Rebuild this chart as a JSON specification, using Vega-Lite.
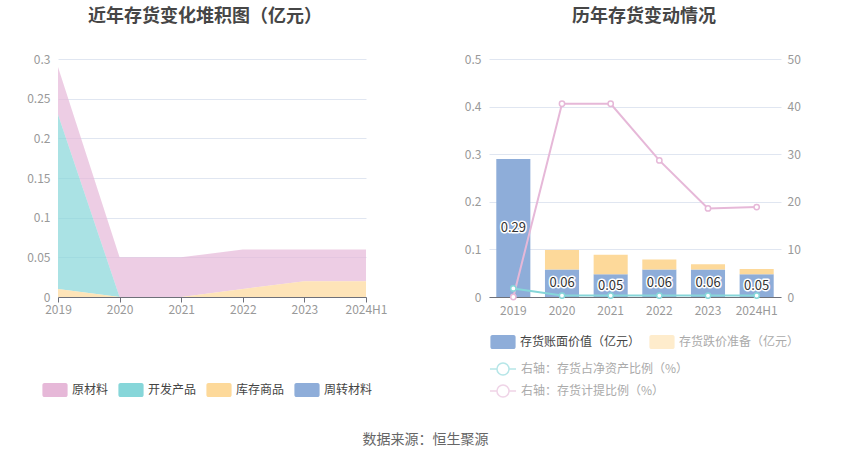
{
  "$schema": "https://vega.github.io/schema/vega-lite/v6.json",
  "background": "white",
  "padding": {"left": 26, "top": 8, "right": 5, "bottom": 5},
  "config": {
    "font": "Noto Sans CJK SC",
    "view": {"stroke": null},
    "axis": {"labelFont": "Noto Sans CJK SC", "labelFontSize": 12, "labelColor": "#999999", "gridColor": "#E0E6F1", "gridWidth": 1, "domainColor": "#6E7079", "tickColor": "#6E7079", "title": null},
    "legend": {"labelFont": "Noto Sans CJK SC", "labelFontSize": 12, "labelColor": "#444444", "padding": 0, "title": null, "labelLimit": 300}
  },
  "datasets": {
    "inv": [
      {"year": "2019", "type": "原材料", "value": 0.06},
      {"year": "2020", "type": "原材料", "value": 0.05},
      {"year": "2021", "type": "原材料", "value": 0.05},
      {"year": "2022", "type": "原材料", "value": 0.05},
      {"year": "2023", "type": "原材料", "value": 0.04},
      {"year": "2024H1", "type": "原材料", "value": 0.04},
      {"year": "2019", "type": "开发产品", "value": 0.22},
      {"year": "2020", "type": "开发产品", "value": 0},
      {"year": "2021", "type": "开发产品", "value": 0},
      {"year": "2022", "type": "开发产品", "value": 0},
      {"year": "2023", "type": "开发产品", "value": 0},
      {"year": "2024H1", "type": "开发产品", "value": 0},
      {"year": "2019", "type": "库存商品", "value": 0.01},
      {"year": "2020", "type": "库存商品", "value": 0},
      {"year": "2021", "type": "库存商品", "value": 0},
      {"year": "2022", "type": "库存商品", "value": 0.01},
      {"year": "2023", "type": "库存商品", "value": 0.02},
      {"year": "2024H1", "type": "库存商品", "value": 0.02},
      {"year": "2019", "type": "周转材料", "value": 0},
      {"year": "2020", "type": "周转材料", "value": 0},
      {"year": "2021", "type": "周转材料", "value": 0},
      {"year": "2022", "type": "周转材料", "value": 0},
      {"year": "2023", "type": "周转材料", "value": 0},
      {"year": "2024H1", "type": "周转材料", "value": 0}
    ],
    "bars": [
      {"year": "2019", "series": "存货账面价值（亿元）", "value": 0.29},
      {"year": "2020", "series": "存货账面价值（亿元）", "value": 0.058},
      {"year": "2021", "series": "存货账面价值（亿元）", "value": 0.048},
      {"year": "2022", "series": "存货账面价值（亿元）", "value": 0.058},
      {"year": "2023", "series": "存货账面价值（亿元）", "value": 0.058},
      {"year": "2024H1", "series": "存货账面价值（亿元）", "value": 0.048},
      {"year": "2019", "series": "存货跌价准备（亿元）", "value": 0},
      {"year": "2020", "series": "存货跌价准备（亿元）", "value": 0.041},
      {"year": "2021", "series": "存货跌价准备（亿元）", "value": 0.041},
      {"year": "2022", "series": "存货跌价准备（亿元）", "value": 0.021},
      {"year": "2023", "series": "存货跌价准备（亿元）", "value": 0.011},
      {"year": "2024H1", "series": "存货跌价准备（亿元）", "value": 0.011}
    ],
    "lines": [
      {"year": "2019", "series": "右轴：存货占净资产比例（%）", "value": 1.8},
      {"year": "2020", "series": "右轴：存货占净资产比例（%）", "value": 0.3},
      {"year": "2021", "series": "右轴：存货占净资产比例（%）", "value": 0.3},
      {"year": "2022", "series": "右轴：存货占净资产比例（%）", "value": 0.3},
      {"year": "2023", "series": "右轴：存货占净资产比例（%）", "value": 0.3},
      {"year": "2024H1", "series": "右轴：存货占净资产比例（%）", "value": 0.3},
      {"year": "2019", "series": "右轴：存货计提比例（%）", "value": 0},
      {"year": "2020", "series": "右轴：存货计提比例（%）", "value": 40.6},
      {"year": "2021", "series": "右轴：存货计提比例（%）", "value": 40.6},
      {"year": "2022", "series": "右轴：存货计提比例（%）", "value": 28.7},
      {"year": "2023", "series": "右轴：存货计提比例（%）", "value": 18.6},
      {"year": "2024H1", "series": "右轴：存货计提比例（%）", "value": 18.9}
    ]
  },
  "title": {"text": "数据来源：恒生聚源", "orient": "bottom", "anchor": "middle", "fontSize": 14, "fontWeight": "normal", "color": "#666666", "offset": 32, "dx": 12},
  "spacing": 123,
  "bounds": "flush",
  "resolve": {"scale": {"color": "independent", "stroke": "independent"}, "legend": {"color": "independent", "stroke": "independent"}},
  "hconcat": [
    {
      "width": 308,
      "height": 238,
      "title": {"text": "近年存货变化堆积图（亿元）", "anchor": "middle", "fontSize": 18, "fontWeight": "bold", "color": "#464646", "offset": 27, "dx": -7},
      "data": {"name": "inv"},
      "transform": [{"calculate": "indexof(['库存商品','开发产品','原材料','周转材料'], datum.type)", "as": "ord"}],
      "mark": {"type": "area", "opacity": 0.7},
      "encoding": {
        "x": {"field": "year", "type": "ordinal", "sort": ["2019", "2020", "2021", "2022", "2023", "2024H1"], "scale": {"type": "point", "padding": 0},
              "axis": {"labelAngle": 0, "tickSize": 5, "labelPadding": 2, "grid": false}},
        "y": {"field": "value", "type": "quantitative", "stack": "zero", "scale": {"domain": [0, 0.3], "nice": false},
              "axis": {"values": [0, 0.05, 0.1, 0.15, 0.2, 0.25, 0.3], "format": "~g", "domain": false, "ticks": false, "grid": true, "labelPadding": 8}},
        "color": {"field": "type", "type": "nominal",
                  "scale": {"domain": ["原材料", "开发产品", "库存商品", "周转材料"], "range": ["#e6b8d8", "#86d6d9", "#fdd99a", "#8eadd9"]},
                  "legend": {"orient": "none", "legendX": -10, "legendY": 324, "direction": "horizontal", "symbolOpacity": 1, "symbolSize": 196, "symbolStrokeWidth": 0,
                             "symbolType": "M-1.5,-1 H1.5 A0.3,0.3 0 0 1 1.8,-0.7 V0.7 A0.3,0.3 0 0 1 1.5,1 H-1.5 A0.3,0.3 0 0 1 -1.8,0.7 V-0.7 A0.3,0.3 0 0 1 -1.5,-1 Z",
                             "labelOffset": 10, "columnPadding": 9}},
        "order": {"field": "ord", "type": "quantitative"}
      }
    },
    {
      "width": 292,
      "height": 238,
      "title": {"text": "历年存货变动情况", "anchor": "middle", "fontSize": 18, "fontWeight": "bold", "color": "#464646", "offset": 27, "dx": 9},
      "encoding": {
        "x": {"field": "year", "type": "ordinal", "sort": ["2019", "2020", "2021", "2022", "2023", "2024H1"], "scale": {"paddingInner": 0.3, "paddingOuter": 0.15},
              "axis": {"labelAngle": 0, "ticks": false, "labelPadding": 8, "grid": false}}
      },
      "layer": [
        {
          "data": {"name": "bars"},
          "layer": [
            {
              "transform": [{"calculate": "indexof(['存货账面价值（亿元）','存货跌价准备（亿元）'], datum.series)", "as": "ord"}],
              "mark": {"type": "bar"},
              "encoding": {
                "y": {"field": "value", "type": "quantitative", "stack": "zero", "scale": {"domain": [0, 0.5], "nice": false},
                      "axis": {"values": [0, 0.1, 0.2, 0.3, 0.4, 0.5], "format": "~g", "domain": false, "ticks": false, "grid": true, "labelPadding": 8}},
                "color": {"field": "series", "type": "nominal",
                          "scale": {"domain": ["存货账面价值（亿元）", "存货跌价准备（亿元）"], "range": ["#8eadd9", "#fdd99a"]},
                          "legend": {"orient": "none", "legendX": 7, "legendY": 276, "direction": "horizontal", "symbolSize": 196, "symbolStrokeWidth": 0,
                                     "symbolType": "M-1.5,-1 H1.5 A0.3,0.3 0 0 1 1.8,-0.7 V0.7 A0.3,0.3 0 0 1 1.5,1 H-1.5 A0.3,0.3 0 0 1 -1.8,0.7 V-0.7 A0.3,0.3 0 0 1 -1.5,-1 Z",
                                     "labelOffset": 10, "columnPadding": 8,
                                     "encode": {"symbols": {"update": {"opacity": {"signal": "datum.value === '存货跌价准备（亿元）' ? 0.5 : 1"}}},
                                                "labels": {"update": {"fill": {"signal": "datum.value === '存货跌价准备（亿元）' ? '#aaaaaa' : '#444444'"}}}}}},
                "order": {"field": "ord", "type": "quantitative"}
              }
            },
            {
              "transform": [{"filter": "datum.series === '存货账面价值（亿元）'"}, {"calculate": "datum.value / 2", "as": "mid"}],
              "mark": {"type": "text", "fontSize": 13, "fill": "#333333", "stroke": "white", "strokeWidth": 3, "strokeJoin": "round"},
              "encoding": {
                "y": {"field": "mid", "type": "quantitative"},
                "text": {"field": "value", "type": "quantitative", "format": ".2f"}
              }
            },
            {
              "transform": [{"filter": "datum.series === '存货账面价值（亿元）'"}, {"calculate": "datum.value / 2", "as": "mid"}],
              "mark": {"type": "text", "fontSize": 13, "fill": "#333333"},
              "encoding": {
                "y": {"field": "mid", "type": "quantitative"},
                "text": {"field": "value", "type": "quantitative", "format": ".2f"}
              }
            }
          ]
        },
        {
          "data": {"name": "lines"},
          "encoding": {
            "y": {"field": "value", "type": "quantitative", "scale": {"domain": [0, 50], "nice": false},
                  "axis": {"orient": "right", "values": [0, 10, 20, 30, 40, 50], "domain": false, "ticks": false, "grid": false, "labelPadding": 6}},
            "stroke": {"field": "series", "type": "nominal",
                       "scale": {"domain": ["右轴：存货占净资产比例（%）", "右轴：存货计提比例（%）"], "range": ["#86d6d9", "#e6b8d8"]},
                       "legend": {"orient": "none", "legendX": 6, "legendY": 302, "direction": "vertical", "symbolSize": 196, "symbolStrokeWidth": 1.5, "symbolFillColor": "white", "symbolOpacity": 0.6,
                                  "symbolType": "M-1.86,0 H-0.86 M0.86,0 H1.86 M0.86,0 A0.86,0.86 0 1 1 -0.86,0 A0.86,0.86 0 1 1 0.86,0",
                                  "labelOffset": 10, "rowPadding": 2, "labelColor": "#aaaaaa"}}
          },
          "layer": [
            {"mark": {"type": "line", "strokeWidth": 2}},
            {"mark": {"type": "point", "filled": true, "fill": "white", "size": 28, "strokeWidth": 1.5, "opacity": 1}}
          ]
        }
      ],
      "resolve": {"scale": {"y": "independent"}}
    }
  ]
}
